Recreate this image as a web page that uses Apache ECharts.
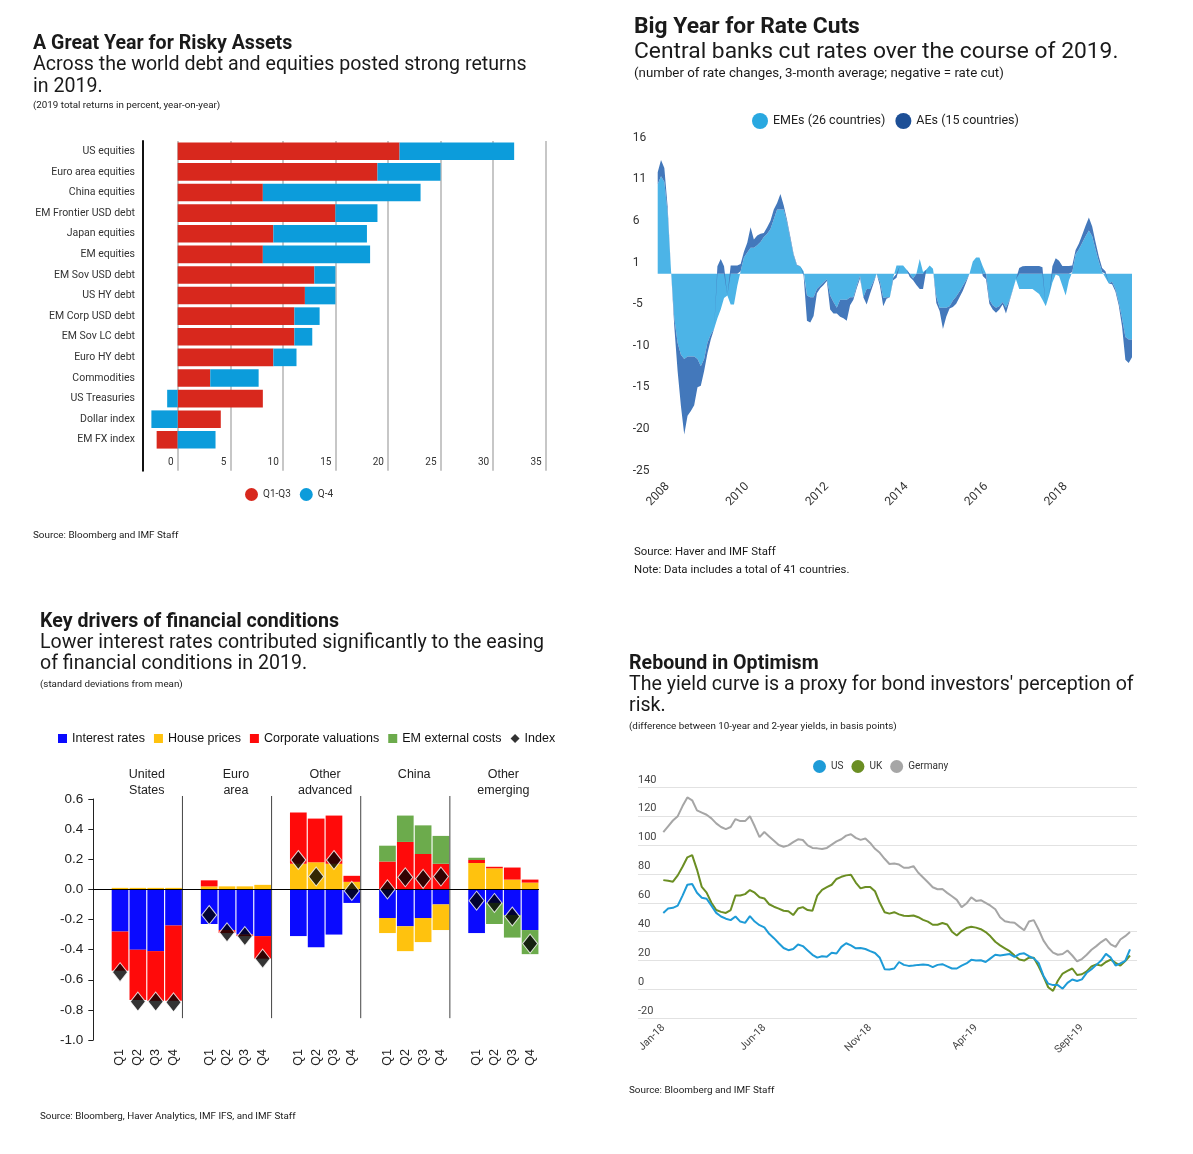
<!DOCTYPE html>
<html><head><meta charset="utf-8">
<script src="https://cdn.jsdelivr.net/npm/echarts/dist/echarts.min.js"></script>
<style>html,body{margin:0;padding:0;background:#fff}#c{width:1193px;height:1154px}</style>
</head><body><div id="c"></div>
<script>
// ---------- Panel 1: A Great Year for Risky Assets ----------
const assetNames = ['US equities','Euro area equities','China equities','EM Frontier USD debt','Japan equities','EM equities','EM Sov USD debt','US HY debt','EM Corp USD debt','EM Sov LC debt','Euro HY debt','Commodities','US Treasuries','Dollar index','EM FX index'];
const retQ1Q3 = [21.1, 19.0, 8.1, 15.0, 9.1, 8.1, 13.0, 12.1, 11.1, 11.1, 9.1, 3.1, 8.1, 4.1, -2.0];
const retQ4   = [10.9, 6.0, 15.0, 4.0, 8.9, 10.2, 2.0, 2.9, 2.4, 1.7, 2.2, 4.6, -1.0, -2.5, 3.6];

// ---------- Panel 2: Big Year for Rate Cuts (monthly) ----------
const rateStartYear = 2007, rateStartMonth = 10;
const emeCuts = [
 11.0, 12.0, 11.3, 7.5, 0.5, -5.5, -8.5, -10.0, -10.5, -10.2,
 -10.2, -10.2, -10.5, -11.4, -10.5, -8.5, -7.5, -6.8, -5.5, -4.4,
 -3.0, -2.7, -3.8, -3.8, -1.5, 0.3, 2.0, 2.6, 3.2, 3.2,
 3.5, 3.9, 4.5, 4.9, 5.5, 6.7, 7.9, 7.9, 7.9, 6.3,
 4.2, 2.2, 1.0, 0.9, 0.3, -2.7, -2.9, -2.9, -1.9, -1.5,
 -1.1, -0.7, -2.7, -3.5, -4.2, -3.2, -3.2, -3.2, -2.9, -2.9,
 -1.5, -0.3, -2.9, -1.9, -1.9, -1.0, 0, -1.0, -3.0, -2.9,
 -2.9, -0.5, 1.0, 1.0, 1.0, 0.5, 0, -0.6, 0, 1.8,
 0.2, 0.5, 1.0, 0.6, -2.8, -4.2, -4.2, -4.2, -4.0, -3.3,
 -2.8, -2.2, -1.5, -0.8, 0, 1.5, 2.0, 2.0, 0.9, 0,
 -3.2, -3.9, -4.2, -4.0, -3.5, -4.2, -3.3, -2.0, -0.7, -1.9,
 -1.9, -1.9, -1.9, -1.9, -2.2, -2.5, -3.2, -4.0, -2.7, -1.1,
 -0.1, -0.3, -1.5, -2.7, -0.8, 0.2, 2.4, 3.0, 3.8, 4.6,
 5.3, 4.6, 3.0, 1.5, 0.2, -0.5, -1.2, -1.0, -1.9, -3.5,
 -5.5, -7.8, -8.1, -8.1];
const aeCuts = [
 1.5, 2.0, 1.7, 0.7, 0, -1.0, -3.5, -6.3, -9.3, -7.3,
 -6.7, -6.0, -3.5, -2.4, -1.5, -1.3, -0.6, 0, 0.9, 1.8,
 0.9, 0, 1.0, 1.0, 1.0, 0.9, 0.7, 1.2, 2.5, 1.0,
 1.2, 1.0, 0.5, 0.8, 1.0, 1.2, 0.8, 1.9, 0.5, 0.3,
 0.3, 0.2, 0.1, 0, -0.3, -3.1, -3.1, -2.3, -0.5, -0.3,
 -0.3, -0.2, -1.7, -1.4, -0.7, -2.1, -2.3, -2.6, -1.0, -0.3,
 -0.3, -0.3, 0, -1.9, -0.6, -0.3, 0, -0.5, -1.0, -0.2,
 0, -0.3, -0.5, 0, 0, 0, -0.4, -0.2, -1.4, -1.9,
 -1.9, 0, 0, 0, -0.8, -0.4, -2.6, -1.1, -0.3, -0.8,
 -0.9, -0.7, -0.6, -0.3, 0, 0, 0, 0, -0.3, -0.7,
 -0.5, -0.5, -0.6, -0.4, -0.3, -0.7, -0.2, -0.1, 0, 0.7,
 0.9, 0.95, 0.95, 0.95, 0.95, 0.95, 0.8, 0, 0, 0.9,
 1.9, 1.6, 0.95, 0.95, 0.95, 0.8, 0.5, 0.7, 1.0, 1.3,
 1.6, 1.2, 0.9, 0.6, 0.5, 0.3, 0, -0.3, -0.3, -0.4,
 -1.0, -2.8, -2.9, -2.2];

// ---------- Panel 3: Key drivers of financial conditions ----------
const driverGroups = ['United\nStates','Euro\narea','Other\nadvanced','China','Other\nemerging'];
const quarters = ['Q1','Q2','Q3','Q4'];
const interestRates = [-0.28,-0.40,-0.41,-0.24, -0.23,-0.27,-0.30,-0.31, -0.31,-0.385,-0.30,-0.09, -0.19,-0.245,-0.19,-0.10, -0.29,-0.09,-0.17,-0.27];
const housePrices   = [0.01,0.01,0.01,0.01, 0.02,0.02,0.02,0.03, 0.17,0.18,0.17,0.05, -0.10,-0.165,-0.16,-0.17, 0.175,0.14,0.065,0.045];
const corpValuations= [-0.26,-0.335,-0.33,-0.50, 0.04,-0.02,-0.01,-0.15, 0.34,0.29,0.32,0.04, 0.185,0.315,0.235,0.17, 0.02,0.01,0.08,0.02];
const emExternal    = [0,0,0,0, 0,0,0,0, 0,0,0,0, 0.105,0.175,0.19,0.185, 0.015,-0.14,-0.15,-0.16];
const fciIndex      = [-0.55,-0.745,-0.745,-0.75, -0.17,-0.285,-0.31,-0.46, 0.195,0.085,0.195,-0.01, 0.0,0.08,0.07,0.085, -0.075,-0.09,-0.18,-0.36];

// ---------- Panel 4: Rebound in Optimism (weekly) ----------
const weekStart = [2018, 0, 5];
const monthNames = ['Jan','Feb','Mar','Apr','May','Jun','Jul','Aug','Sept','Oct','Nov','Dec'];
const usSpread = [53,56,56.5,58,65,72.5,73,67,63.5,62.8, 58,53,50.5,49,48,50.5,47,46.1,50.8,47, 44.5,43,38.5,35.5,32,28.7,27.2,28,31.1,30, 27,24,22,23,22.6,25.4,24.9,29.5,32,30.5, 28.5,28.7,28,26.5,25.2,21.9,14,13.8,14.5,19, 17,16.3,16.5,17,17.3,17,15.5,17,17.5,16, 14.5,14.5,16.5,18,20.5,20,20.2,19,21.5,24, 23.5,24,24.5,22.5,24.5,25,23,21.5,18.4,9.5, 4,3,3,0.5,4.5,6.9,5.8,7,11.5,14, 17,20,24.6,22,16.5,18,19.8,27.7];
const ukSpread = [75.7,75.2,74.6,79,85,91.5,93,83,71,67, 60,55,53.7,53,55,65,65,66,68.8,67, 63.8,63,59,57.3,56,54.5,54.2,51.5,56,57, 55,54.5,65,69,70.8,72.5,76.5,78,79,79.5, 74,70,71,71,68,60,53.5,52.5,53.5,52, 51,50.8,51.2,50,48.2,47,44.8,44.8,46,45, 40,37.4,40.4,42.5,43.4,42.8,41.7,39.7,36.8,33, 30.5,28.5,26.5,23.5,20.7,20,22,22,16,9, 1.5,-1,6,11,12.8,14.5,10,10.5,12.5,16, 17.3,16.5,19,20.6,18.4,16.5,19.6,23.5];
const deSpread = [109,113,117,120,127,133,131,124,122.5,121, 118.5,115,112.5,111,112.5,118,116.6,116.6,120,113, 105.5,109,106,103,100,98.8,99.8,102,104,103.5, 99.8,98,97.7,97.2,98,100.3,102.5,104,106.5,107.5, 105,103.6,104.5,101.5,97.4,94.6,90.5,86.9,87.2,86.5, 84.3,84.3,85.4,80.8,77.5,74.2,70.8,69.4,69.5,66.9, 64.5,62,57,59.5,63.8,61.3,61.8,60,58,55.5, 50,47.2,46.6,46.2,43.5,41,47,48,41.5,34, 29,25.5,24,24.5,27,23.5,19.5,21,24,27.5, 30,32.8,35,31.2,29.5,34.6,36.9,39.7];

// ---------- derived structures ----------
const rateMonths = emeCuts.map((_, i) => {
  const m = rateStartMonth - 1 + i;
  return (rateStartYear + Math.floor(m / 12)) + '-' + String(m % 12 + 1).padStart(2, '0');
});
const weeks = usSpread.map((_, i) => {
  const d = new Date(Date.UTC(weekStart[0], weekStart[1], weekStart[2] + 7 * i));
  return d.getUTCFullYear() + '-' + String(d.getUTCMonth() + 1).padStart(2, '0') + '-' + String(d.getUTCDate()).padStart(2, '0');
});
function slotted(arr, fill) {
  const gap = fill === undefined ? null : fill;
  const out = [gap];
  driverGroups.forEach((g, k) => {
    quarters.forEach((q, j) => out.push(arr[k * 4 + j]));
    if (k < driverGroups.length - 1) out.push(gap);
  });
  return out;
}
const driverSlots = slotted(driverGroups.flatMap(() => quarters), '');
const slotIndex = (k, j) => 1 + k * 5 + j;

const ROBOTO = 'Roboto, "Noto Sans", sans-serif';
const ARIAL = '"Liberation Sans", Arial, sans-serif';

function txt(x, y, text, font, extra) {
  return Object.assign({type: 'text', x: x, y: y, silent: true,
    style: Object.assign({text: text, font: font, fill: '#1a1a1a', align: 'left', verticalAlign: 'middle'}, extra || {})});
}

const chart = echarts.init(document.getElementById('c'), null, {renderer: 'canvas'});
const option = {
  animation: false,
  backgroundColor: '#fff',
  textStyle: {fontFamily: ROBOTO},
  graphic: [
    txt(33, 44, 'A Great Year for Risky Assets', 'bold 19.6px ' + ROBOTO),
    txt(33, 54.5, 'Across the world debt and equities posted strong returns\nin 2019.', '19.6px ' + ROBOTO, {verticalAlign: 'top', lineHeight: 22}),
    txt(33, 106, '(2019 total returns in percent, year-on-year)', '9.8px ' + ROBOTO),
    txt(33, 536, 'Source: Bloomberg and IMF Staff', '9.9px ' + ROBOTO),
    txt(634, 27, 'Big Year for Rate Cuts', 'bold 22.8px ' + ROBOTO),
    txt(634, 52, 'Central banks cut rates over the course of 2019.', '22.8px ' + ROBOTO),
    txt(634, 74, '(number of rate changes, 3-month average; negative = rate cut)', '13.3px ' + ROBOTO),
    txt(634, 552, 'Source: Haver and IMF Staff', '11.4px ' + ROBOTO),
    txt(634, 570, 'Note: Data includes a total of 41 countries.', '11.4px ' + ROBOTO),
    txt(40, 622, 'Key drivers of financial conditions', 'bold 19.6px ' + ROBOTO),
    txt(40, 633, 'Lower interest rates contributed significantly to the easing\nof financial conditions in 2019.', '19.6px ' + ROBOTO, {verticalAlign: 'top', lineHeight: 21}),
    txt(40, 685, '(standard deviations from mean)', '9.8px ' + ROBOTO),
    txt(40, 1117, 'Source: Bloomberg, Haver Analytics, IMF IFS, and IMF Staff', '9.8px ' + ROBOTO),
    txt(629, 664, 'Rebound in Optimism', 'bold 19.6px ' + ROBOTO),
    txt(629, 675, "The yield curve is a proxy for bond investors' perception of\nrisk.", '19.6px ' + ROBOTO, {verticalAlign: 'top', lineHeight: 21}),
    txt(629, 727, '(difference between 10-year and 2-year yields, in basis points)', '9.8px ' + ROBOTO),
    txt(629, 1091, 'Source: Bloomberg and IMF Staff', '9.9px ' + ROBOTO)
  ],
  legend: [
    {data: ['Q1-Q3', 'Q-4'], left: 240, top: 483, icon: 'circle', itemWidth: 13, itemHeight: 13, itemGap: 9,
     textStyle: {fontSize: 10, color: '#333', fontFamily: ROBOTO}},
    {data: ['EMEs (26 countries)', 'AEs (15 countries)'], left: 747, top: 108, icon: 'circle', itemWidth: 16, itemHeight: 16, itemGap: 10,
     textStyle: {fontSize: 12.5, color: '#222', fontFamily: ROBOTO}},
    {data: [{name: 'Interest rates', icon: 'rect'}, {name: 'House prices', icon: 'rect'}, {name: 'Corporate valuations', icon: 'rect'}, {name: 'EM external costs', icon: 'rect'}, {name: 'Index', icon: 'diamond'}],
     left: 53, top: 727, itemWidth: 9, itemHeight: 9, itemGap: 9, itemStyle: {borderWidth: 0},
     textStyle: {fontSize: 12.5, color: '#111', fontFamily: ARIAL}},
    {data: ['US', 'UK', 'Germany'], left: 808, top: 755, icon: 'circle', itemWidth: 13, itemHeight: 13, itemGap: 8,
     textStyle: {fontSize: 10, color: '#333', fontFamily: ROBOTO}}
  ],
  grid: [
    {left: 125.1, top: 141, width: 420.6, height: 329.7, outerBoundsMode: 'none'},
    {left: 657.7, top: 143.7, width: 474.3, height: 333, outerBoundsMode: 'none'},
    {left: 93.3, top: 799, width: 445.7, height: 241, outerBoundsMode: 'none'},
    {left: 638, top: 787.3, width: 499, height: 231, outerBoundsMode: 'none'},
    {left: 663.3, top: 787.3, width: 466.7, height: 231, outerBoundsMode: 'none'}
  ],
  xAxis: [
    {gridIndex: 0, type: 'value', min: -5, max: 35, interval: 5,
     axisLine: {show: false}, axisTick: {show: false},
     splitLine: {show: true, showMinLine: false, lineStyle: {color: '#b5b5b5', width: 1.5}},
     axisLabel: {inside: true, showMinLabel: false, align: 'right', margin: 3, padding: [0, 4, 0, 0], fontSize: 10, color: '#333'}},
    {gridIndex: 1, type: 'category', data: rateMonths, boundaryGap: false,
     axisLine: {show: false}, axisTick: {show: false}, splitLine: {show: false},
     axisLabel: {interval: (i, v) => v.endsWith('-01') && (+v.slice(0, 4)) % 2 === 0,
       formatter: v => v.slice(0, 4), rotate: 45, fontSize: 12, color: '#333', margin: 8}},
    {gridIndex: 2, type: 'category', data: driverSlots,
     axisLine: {show: false}, axisTick: {show: false}, splitLine: {show: false},
     axisLabel: {interval: 0, rotate: 90, fontSize: 12.5, fontFamily: ARIAL, color: '#222', margin: 9,
       formatter: v => v || ''}},
    {gridIndex: 3, type: 'value', min: 0, max: 1, show: false},
    {gridIndex: 4, type: 'category', data: weeks, boundaryGap: false,
     axisLine: {show: false}, axisTick: {show: false}, splitLine: {show: false},
     axisLabel: {interval: (i, v) => {
         const y = +v.slice(0, 4), m = +v.slice(5, 7) - 1, d = +v.slice(8, 10);
         return d <= 7 && ((y - weekStart[0]) * 12 + m) % 5 === 0;
       },
       formatter: v => monthNames[+v.slice(5, 7) - 1] + '-' + v.slice(2, 4),
       rotate: 45, fontSize: 10.5, color: '#444', margin: 8}}
  ],
  yAxis: [
    {gridIndex: 0, type: 'category', inverse: true, data: assetNames.concat(['']), offset: -17.9,
     axisLine: {show: true, onZero: false, lineStyle: {color: '#111', width: 2}}, axisTick: {show: false},
     axisLabel: {fontSize: 10.5, color: '#333', margin: 8}},
    {gridIndex: 1, type: 'value', min: -25, max: 16, interval: 5.125,
     axisLine: {show: false}, axisTick: {show: false}, splitLine: {show: false},
     axisLabel: {align: 'left', margin: 25, verticalAlign: 'bottom', fontSize: 12, color: '#333',
       formatter: v => String(Math.sign(v) * Math.round(Math.abs(v)))}},
    {gridIndex: 2, type: 'value', min: -1, max: 0.6, interval: 0.2,
     axisLine: {show: true, onZero: false, lineStyle: {color: '#222', width: 1}},
     axisTick: {show: true, length: 5, lineStyle: {color: '#222'}}, splitLine: {show: false},
     axisLabel: {formatter: v => v.toFixed(1), fontSize: 13.5, fontFamily: ARIAL, color: '#222', margin: 10}},
    {gridIndex: 3, type: 'value', min: -20, max: 140, interval: 20,
     axisLine: {show: false}, axisTick: {show: false},
     splitLine: {show: true, lineStyle: {color: '#e2e2e2', width: 1}},
     axisLabel: {inside: true, margin: 0, verticalAlign: 'bottom', padding: [0, 0, 2, 0], fontSize: 11, color: '#444'}},
    {gridIndex: 4, type: 'value', min: -20, max: 140, show: false}
  ],
  series: [
    // Panel 1
    {type: 'bar', name: 'Q1-Q3', xAxisIndex: 0, yAxisIndex: 0, stack: 'ret', data: retQ1Q3, barWidth: 17.6,
     itemStyle: {color: '#d8281d'}},
    {type: 'bar', name: 'Q-4', xAxisIndex: 0, yAxisIndex: 0, stack: 'ret', data: retQ4, barWidth: 17.6,
     itemStyle: {color: '#0c9cdb'}},
    // Panel 2
    {type: 'line', name: 'EMEs (26 countries)', xAxisIndex: 1, yAxisIndex: 1, stack: 'rc', data: emeCuts,
     symbol: 'none', lineStyle: {width: 0, opacity: 0}, itemStyle: {color: '#29a8e0'},
     areaStyle: {color: '#4cb4e7', opacity: 1}},
    {type: 'line', name: 'AEs (15 countries)', xAxisIndex: 1, yAxisIndex: 1, stack: 'rc', data: aeCuts,
     symbol: 'none', lineStyle: {width: 0, opacity: 0}, itemStyle: {color: '#1d4f96'},
     areaStyle: {color: '#4378bb', opacity: 1}},
    // Panel 3
    {type: 'bar', name: 'Interest rates', xAxisIndex: 2, yAxisIndex: 2, stack: 'fc', data: slotted(interestRates), barWidth: 16.7,
     itemStyle: {color: '#0a0aff'},
     markLine: {silent: true, symbol: ['none', 'none'], label: {show: false},
       lineStyle: {color: '#000', width: 1.2, type: 'solid'}, data: [{yAxis: 0}]}},
    {type: 'bar', name: 'House prices', xAxisIndex: 2, yAxisIndex: 2, stack: 'fc', data: slotted(housePrices), barWidth: 16.7,
     itemStyle: {color: '#ffc20e'}},
    {type: 'bar', name: 'Corporate valuations', xAxisIndex: 2, yAxisIndex: 2, stack: 'fc', data: slotted(corpValuations), barWidth: 16.7,
     itemStyle: {color: '#ff0a0a'}},
    {type: 'bar', name: 'EM external costs', xAxisIndex: 2, yAxisIndex: 2, stack: 'fc', data: slotted(emExternal), barWidth: 16.7,
     itemStyle: {color: '#6cab4c'}},
    {type: 'scatter', name: 'Index', xAxisIndex: 2, yAxisIndex: 2, data: slotted(fciIndex), z: 10,
     symbol: 'diamond', symbolSize: [15, 19], itemStyle: {color: '#000', borderColor: '#fff', borderWidth: 1}},
    {type: 'custom', xAxisIndex: 2, yAxisIndex: 2, silent: true, z: 3,
     data: driverGroups.slice(0, -1).map((g, k) => [slotIndex(k, 3), 0]),
     renderItem: (params, api) => {
       const bw = api.size([1, 0])[0];
       const a = api.coord([api.value(0), 0.62]);
       const b = api.coord([api.value(0), -0.855]);
       const x = a[0] + bw / 2;
       return {type: 'line', shape: {x1: x, y1: a[1], x2: x, y2: b[1]}, style: {stroke: '#444', lineWidth: 1}};
     }},
    {type: 'custom', xAxisIndex: 2, yAxisIndex: 2, silent: true,
     data: driverGroups.map((g, k) => [slotIndex(k, 1), 0]),
     renderItem: (params, api) => {
       const bw = api.size([1, 0])[0];
       const p = api.coord([api.value(0), 0.815]);
       return {type: 'text', x: p[0] + bw / 2, y: p[1],
         style: {text: driverGroups[params.dataIndex], align: 'center', verticalAlign: 'top',
           font: '12.5px ' + ARIAL, fill: '#222', lineHeight: 16}};
     }},
    // Panel 4
    {type: 'line', name: 'Germany', xAxisIndex: 4, yAxisIndex: 4, data: deSpread, symbol: 'none',
     lineStyle: {width: 2, color: '#a6a6a6'}, itemStyle: {color: '#a6a6a6'}},
    {type: 'line', name: 'UK', xAxisIndex: 4, yAxisIndex: 4, data: ukSpread, symbol: 'none',
     lineStyle: {width: 2, color: '#6b8e23'}, itemStyle: {color: '#6b8e23'}},
    {type: 'line', name: 'US', xAxisIndex: 4, yAxisIndex: 4, data: usSpread, symbol: 'none',
     lineStyle: {width: 2, color: '#1e9bd7'}, itemStyle: {color: '#1e9bd7'}}
  ]
};
chart.setOption(option);
</script>
</body></html>
